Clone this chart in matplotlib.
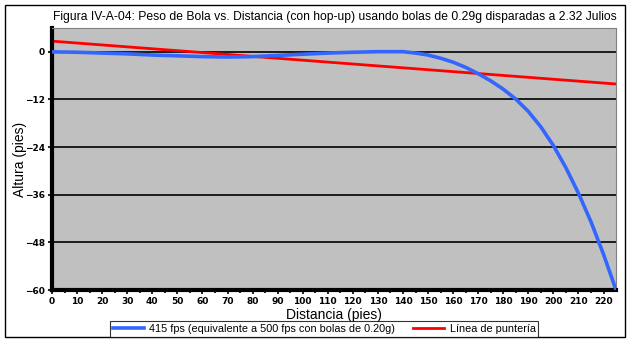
import matplotlib
matplotlib.use("Agg")
import matplotlib.pyplot as plt
from matplotlib.patches import Rectangle
import numpy as np

# Trayectoria de la bola (pies) y línea de puntería
distancia = [0, 10, 20, 30, 40, 50, 60, 70, 80, 90, 100, 110, 120, 130, 140,
             145, 150, 155, 160, 165, 170, 175, 180, 185, 190, 195, 200, 205,
             210, 215, 220, 225]
altura = [0, -0.1, -0.3, -0.5, -0.8, -1.0, -1.2, -1.3, -1.2, -0.9, -0.6, -0.3,
          -0.1, 0.05, 0.05, -0.3, -0.8, -1.6, -2.6, -3.9, -5.5, -7.3, -9.4,
          -11.9, -15.0, -18.9, -23.6, -29.2, -35.6, -42.8, -51.0, -60]
punteria_x = [0, 225]
punteria_y = [2.7, -8.1]

etiqueta_bola = "415 fps (equivalente a 500 fps con bolas de 0.20g)"
etiqueta_punteria = "Línea de puntería"
titulo = ("Figura IV-A-04: Peso de Bola vs. Distancia (con hop-up) usando bolas "
          "de 0.29g disparadas a 2.32 Julios")

fuente = ["Liberation Sans", "DejaVu Sans"]

fig = plt.figure(figsize=(6.33, 3.42), dpi=100)
ax = fig.add_axes([0.0822, 0.152, 0.891, 0.766])
ax.set_facecolor("#c0c0c0")

for y in [0, -12, -24, -36, -48]:
    ax.axhline(y, color="black", lw=1.2, zorder=1)

ax.plot(distancia, altura, color="#3366ff", lw=2.6, label=etiqueta_bola,
        solid_joinstyle="round", zorder=3)
ax.plot(punteria_x, punteria_y, color="#ff0000", lw=2, label=etiqueta_punteria, zorder=2)

ax.set_xlim(0, 225)
ax.set_ylim(-60, 6)
ax.set_xticks(np.arange(0, 221, 10))
ax.set_xticks(np.arange(5, 225, 10), minor=True)
ax.set_yticks([0, -12, -24, -36, -48, -60])
ax.tick_params(axis="both", labelsize=6.5, length=3, width=1.2, pad=2)
ax.tick_params(axis="x", which="minor", length=2, width=1.2)
for lab in ax.get_xticklabels() + ax.get_yticklabels():
    lab.set_fontweight("bold")

ax.spines["left"].set_linewidth(3)
ax.spines["bottom"].set_linewidth(3)
ax.spines["top"].set_color("#808080")
ax.spines["right"].set_color("#808080")

ax.set_xlabel("Distancia (pies)", fontsize=10, family=fuente)
ax.set_ylabel("Altura (pies)", fontsize=10, family=fuente, va="center")
ax.xaxis.set_label_coords(0.5, -0.068)
ax.yaxis.set_label_coords(-0.057, 0.5)
fig.text(0.529, 0.95, titulo, ha="center", va="center", fontsize=8.75, family=fuente)

leg = fig.legend(loc="center", bbox_to_anchor=(0.512, 0.038), ncol=2,
                 prop={"family": fuente, "size": 7.8}, frameon=True, fancybox=False,
                 edgecolor="black", handlelength=2.9, borderpad=0.25,
                 columnspacing=1.6, handletextpad=0.5)
leg.get_frame().set_linewidth(0.8)

fig.patches.append(Rectangle((0.0079, 0.0146), 0.9795, 0.9708, transform=fig.transFigure,
                             fill=False, edgecolor="black", lw=1))

fig.savefig("out.png", dpi=100)
